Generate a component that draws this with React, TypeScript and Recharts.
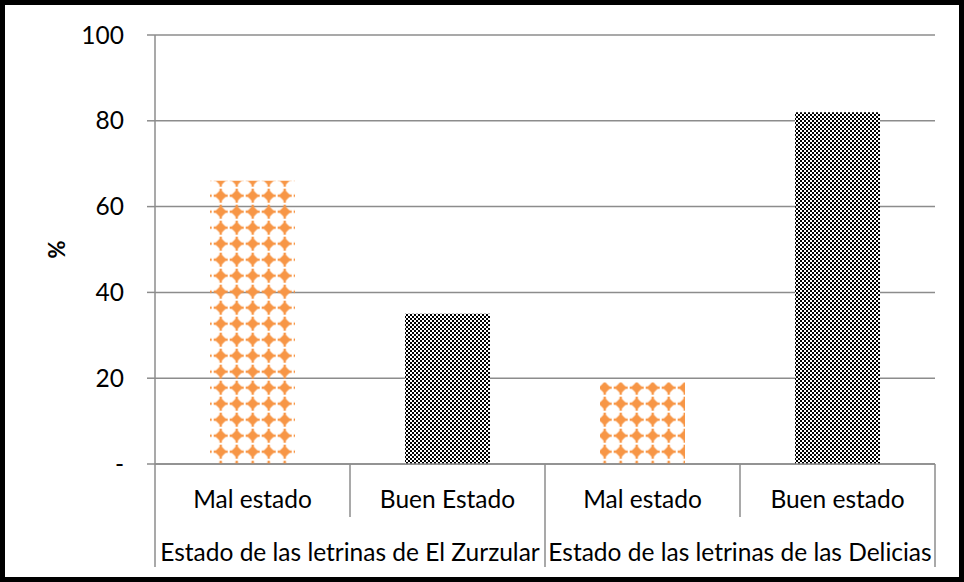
import { Bar, BarChart, CartesianGrid, Cell, XAxis, YAxis } from "recharts";

const subLabels = ["Mal estado", "Buen Estado", "Mal estado", "Buen estado"];
const groupLabels = [
  "Estado de las letrinas de El Zurzular",
  "Estado de las letrinas de las Delicias",
];
const values = [66, 35, 19, 82];
const patterns = ["dots", "checks", "dots", "checks"];
const yTicks = [0, 20, 40, 60, 80, 100];

const data = subLabels.map((name, i) => ({ name, value: values[i], pattern: patterns[i] }));

const W = 964;
const H = 582;
const TOP = 35;
const RIGHT = 29;
const Y_AXIS_W = 155;
const X_AXIS_H = 118;
const PLOT_BOTTOM = H - X_AXIS_H;
const BAND = (W - RIGHT - Y_AXIS_W) / subLabels.length;
const GRAY = "#8c8c8c";
const FONT = "Lato, 'Liberation Sans', sans-serif";

const XTick = (props: any) => {
  const { x, index } = props;
  const label = subLabels[index];
  const right = x + BAND / 2;
  const left = x - BAND / 2;
  const isGroupEnd = index % 2 === 1;
  return (
    <g>
      {index === 0 && (
        <line x1={left} x2={left} y1={PLOT_BOTTOM} y2={PLOT_BOTTOM + 103} stroke={GRAY} strokeWidth={1.5} />
      )}
      <line
        x1={right}
        x2={right}
        y1={PLOT_BOTTOM}
        y2={PLOT_BOTTOM + (isGroupEnd ? 103 : 53)}
        stroke={GRAY}
        strokeWidth={1.5}
      />
      <text x={x} y={PLOT_BOTTOM + 34} textAnchor="middle" dominantBaseline="central" fontSize={24.5} fill="#000" fontFamily={FONT}>
        {label}
      </text>
      {index % 2 === 0 && (
        <text x={right} y={PLOT_BOTTOM + 87} textAnchor="middle" dominantBaseline="central" fontSize={24.5} fill="#000" fontFamily={FONT}>
          {groupLabels[index / 2]}
        </text>
      )}
    </g>
  );
};

export default function App() {
  return (
    <div style={{ position: "relative", width: W, height: H, background: "#fff" }}>
      <style>{"body{margin:0}"}</style>
      <BarChart width={W} height={H} data={data} margin={{ top: TOP, right: RIGHT, left: 0, bottom: 0 }}>
        <defs>
          <pattern id="dots" patternUnits="userSpaceOnUse" width={16} height={16} x={4.7} y={-4.3}>
            <polygon points="8,2 14,8 8,14 2,8" fill="#F79646" />
            <rect x={1} y={6.8} width={14} height={2.4} fill="#F79646" />
            <rect x={6.8} y={1} width={2.4} height={14} fill="#F79646" />
          </pattern>
          <pattern id="checks" patternUnits="userSpaceOnUse" width={4} height={4}>
            <rect width={4} height={4} fill="#fff" />
            <rect width={2} height={2} fill="#000" />
            <rect x={2} y={2} width={2} height={2} fill="#000" />
          </pattern>
        </defs>
        <CartesianGrid vertical={false} stroke={GRAY} strokeWidth={1.5} />
        <XAxis
          dataKey="name"
          height={X_AXIS_H}
          tickLine={false}
          axisLine={{ stroke: GRAY, strokeWidth: 1.5 }}
          tick={<XTick />}
          interval={0}
        />
        <YAxis
          width={Y_AXIS_W}
          domain={[0, 100]}
          ticks={yTicks}
          interval={0}
          tickSize={8}
          tickMargin={23}
          tickLine={{ stroke: GRAY, strokeWidth: 1.5 }}
          axisLine={{ stroke: GRAY, strokeWidth: 1.5 }}
          tick={{ fill: "#000", fontSize: 24.5, fontFamily: FONT }}
          tickFormatter={(v: number) => (v === 0 ? "-" : String(v))}
          label={{
            value: "%",
            angle: -90,
            position: "insideLeft",
            offset: 57,
            style: { fontSize: 22, fontWeight: "bold", fill: "#000", fontFamily: FONT, textAnchor: "middle" },
          }}
        />
        <Bar dataKey="value" barSize={85} isAnimationActive={false}>
          {data.map((d, i) => (
            <Cell key={i} fill={`url(#${d.pattern})`} />
          ))}
        </Bar>
      </BarChart>
      <div
        style={{
          position: "absolute",
          inset: 0,
          border: "5px solid #000",
          boxSizing: "border-box",
          pointerEvents: "none",
        }}
      />
    </div>
  );
}
